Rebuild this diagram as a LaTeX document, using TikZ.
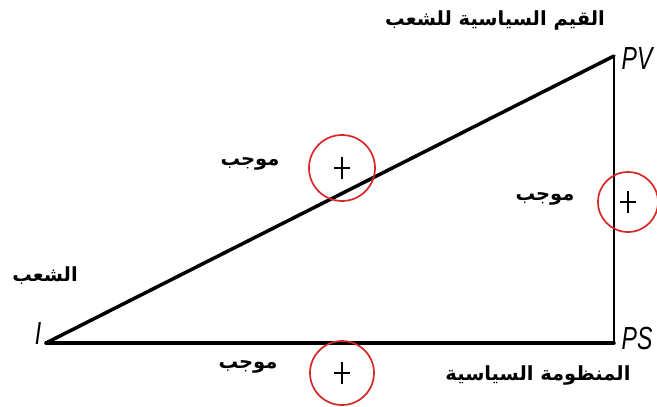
\documentclass[tikz,border=0pt]{standalone}
\usepackage{fontspec}
\setmainfont{Liberation Sans}
\newfontfamily\arabicfont[Script=Arabic]{DejaVu Sans}
\TeXXeTstate=1
\newcommand{\narrow}[1]{\scalebox{0.72}[1]{#1}}
\begin{document}
\begin{tikzpicture}[x=1pt,y=-1pt,
  ar/.style={font=\arabicfont\bfseries\fontsize{19.5}{22}\selectfont, inner sep=0pt},
  lat/.style={font=\itshape\fontsize{32}{34}\selectfont, inner sep=0pt},
  ring/.style={circle, draw={rgb,255:red,215;green,40;blue,40}, line width=1.7pt, inner sep=0pt},
  plusline/.style={line width=1.5pt},
  side/.style={line width=3.5pt, line cap=round}]
\useasboundingbox (0,0) rectangle (657,407);
\fill[white] (0,0) rectangle (657,407);
\coordinate (I) at (46,343);
\coordinate (PS) at (614,343);
\coordinate (PV) at (614,56);
\draw[side] (I) -- (PV);
\draw[side] (I) -- (PS);
\draw[line width=2.4pt] (PS) -- (PV);
\node[lat] (lI) at (38,333) {\narrow{I}};
\node[lat] (lPV) at (637,58) {\narrow{PV}};
\node[lat] (lPS) at (637,338) {\narrow{PS}};
\node[ar] (top) at (495,20) {\beginR القيم السياسية للشعب\endR};
\node[ar] (people) at (45,276) {\beginR الشعب\endR};
\node[ar] (m1) at (250,164) {\beginR موجب\endR};
\node[ar] (m2) at (545,199) {\beginR موجب\endR};
\node[ar] (m3) at (248,367) {\beginR موجب\endR};
\node[ar] (sys) at (538,375) {\beginR المنظومة السياسية\endR};
\node[ring, minimum size=66pt] (c1) at (342,168) {};
\node[ring, minimum size=60pt] (c2) at (628,202) {};
\node[ring, minimum size=64pt] (c3) at (342,373) {};
\foreach \c in {c1,c2,c3}{
  \draw[plusline] ([yshift=-11pt]\c.center) -- ([yshift=11pt]\c.center);
  \draw[plusline] ([xshift=-8pt]\c.center) -- ([xshift=8pt]\c.center);
}
\end{tikzpicture}
\end{document}
